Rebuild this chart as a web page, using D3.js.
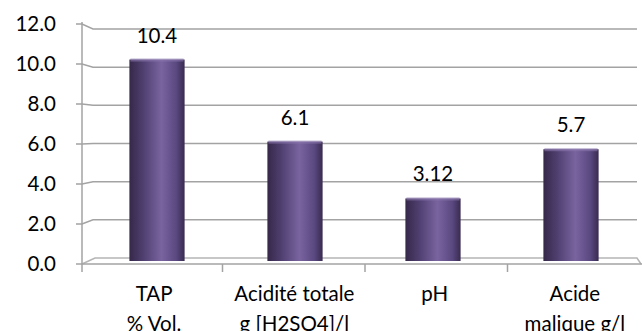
<!DOCTYPE html>
<html>
<head>
<meta charset="utf-8">
<script src="https://cdn.jsdelivr.net/npm/d3@7"></script>
<style>
  body { margin: 0; background: #fff; }
  svg text { font-family: Lato, "Open Sans", sans-serif; font-size: 20.5px; fill: #000; }
</style>
</head>
<body>
<svg id="chart" width="642" height="331"></svg>
<script>

const categories = ["TAP", "Acidité totale", "pH", "Acide"];
const subLabels = ["% Vol.", "g [H2SO4]/l", "", "malique g/l"];
const values = [10.4, 6.1, 3.12, 5.7];
const valueLabels = ["10.4", "6.1", "3.12", "5.7"];
const yTicks = [0, 2, 4, 6, 8, 10, 12];

const svg = d3.select("#chart");

// Scales //////////////////////////////////////

// front plane (axis) and back wall (gridlines, bars)
const yFront = d3.scaleLinear().domain([0, 12]).range([264, 24]);
const yBack = d3.scaleLinear().domain([0, 12]).range([258, 29]);

const xBack = d3.scaleBand()
    .domain(categories)
    .range([88, 640])
    .paddingInner(0.6)
    .paddingOuter(0.3);

const xFront = d3.scaleBand()
    .domain(categories)
    .range([80, 650]);

const wall = { front: 82, back: 93, right: 637 };

// Gradient ////////////////////////////////////

const defs = svg.append("defs");
const grad = defs.append("linearGradient")
    .attr("id", "barGrad")
    .attr("x1", "0%").attr("x2", "100%");
grad.append("stop").attr("offset", "0%").attr("stop-color", "#352849");
grad.append("stop").attr("offset", "25%").attr("stop-color", "#4f3f70");
grad.append("stop").attr("offset", "58%").attr("stop-color", "#7a64a0");
grad.append("stop").attr("offset", "85%").attr("stop-color", "#5a4880");
grad.append("stop").attr("offset", "100%").attr("stop-color", "#382b4f");

// Grid / walls ////////////////////////////////

const grid = svg.append("g").attr("fill", "none").attr("stroke", "#a3a3a3").attr("stroke-width", 1.5);

grid.selectAll("path.grid")
    .data(yTicks.filter(d => d > 0))
    .join("path")
    .attr("class", "grid")
    .attr("d", d => `M${wall.front - 6},${yFront(d)} L${wall.front},${yFront(d)} L${wall.back},${yBack(d)} L${wall.right},${yBack(d)}`);

// floor
grid.append("path")
    .attr("d", `M${wall.front},${yFront(0)} L${wall.back + 2},${yBack(0)} L${wall.right},${yBack(0)} L${wall.right + 4},${yFront(0)}`)
    .attr("stroke", "#b5b5b5");

// left wall line
grid.append("line")
    .attr("x1", wall.front).attr("x2", wall.front)
    .attr("y1", yFront(12) - 2).attr("y2", yFront(0) + 8);

// front x axis
grid.append("line")
    .attr("x1", wall.front - 6).attr("x2", 642)
    .attr("y1", yFront(0)).attr("y2", yFront(0));

grid.selectAll("line.xtick")
    .data(categories.slice(1))
    .join("line")
    .attr("class", "xtick")
    .attr("x1", d => xFront(d)).attr("x2", d => xFront(d))
    .attr("y1", yFront(0)).attr("y2", yFront(0) + 8);

// Bars ////////////////////////////////////////

const floorY = (yBack(0) + yFront(0)) / 2;

svg.append("g")
    .selectAll("rect")
    .data(values)
    .join("rect")
    .attr("x", (d, i) => xBack(categories[i]))
    .attr("width", xBack.bandwidth())
    .attr("y", d => yBack(d))
    .attr("height", d => floorY - yBack(d))
    .attr("fill", "url(#barGrad)");

// bar top rim
svg.append("g")
    .selectAll("rect")
    .data(values)
    .join("rect")
    .attr("x", (d, i) => xBack(categories[i]) + 1)
    .attr("width", xBack.bandwidth() - 2)
    .attr("y", d => yBack(d) - 1)
    .attr("height", 3)
    .attr("fill", "#8a76ad")
    .attr("opacity", 0.6);

// Labels //////////////////////////////////////

svg.append("g")
    .selectAll("text")
    .data(values)
    .join("text")
    .attr("x", (d, i) => xBack(categories[i]) + xBack.bandwidth() / 2)
    .attr("y", d => yBack(d) - 17)
    .attr("text-anchor", "middle")
    .text((d, i) => valueLabels[i]);

svg.append("g")
    .selectAll("text")
    .data(yTicks)
    .join("text")
    .attr("x", 56)
    .attr("y", d => yFront(d))
    .attr("dy", "0.35em")
    .attr("text-anchor", "end")
    .text(d => d3.format(".1f")(d));

const labelX = (i) => (xFront(categories[i]) + xFront.bandwidth() / 2 + xBack(categories[i]) + xBack.bandwidth() / 2) / 2;

const catLabels = svg.append("g");
catLabels.selectAll("text.l1")
    .data(categories)
    .join("text")
    .attr("class", "l1")
    .attr("x", (d, i) => labelX(i))
    .attr("y", 301)
    .attr("text-anchor", "middle")
    .text(d => d);

catLabels.selectAll("text.l2")
    .data(subLabels)
    .join("text")
    .attr("class", "l2")
    .attr("x", (d, i) => labelX(i))
    .attr("y", 331)
    .attr("text-anchor", "middle")
    .text(d => d);

</script>
</body>
</html>
